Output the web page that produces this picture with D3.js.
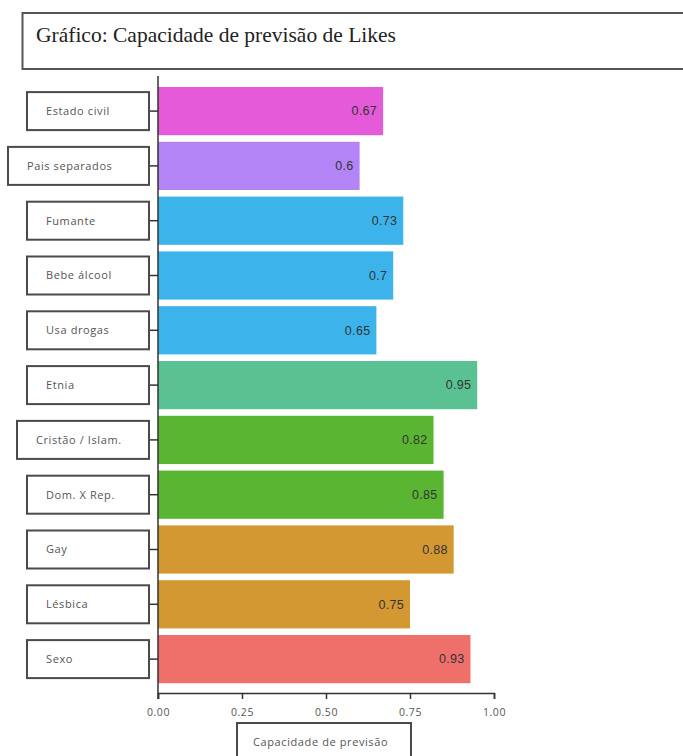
<!DOCTYPE html>
<html>
<head>
<meta charset="utf-8">
<script src="https://cdn.jsdelivr.net/npm/d3@7"></script>
<style>
  html, body { margin: 0; padding: 0; background: #fff; }
  svg { display: block; }
</style>
</head>
<body>
<svg id="chart" width="683" height="756"></svg>
<script>
// ---- data ----
const title = "Gráfico: Capacidade de previsão de Likes";
const categories = ["Estado civil", "Pais separados", "Fumante", "Bebe álcool", "Usa drogas", "Etnia", "Cristão / Islam.", "Dom. X Rep.", "Gay", "Lésbica", "Sexo"];
const values = [0.67, 0.6, 0.73, 0.7, 0.65, 0.95, 0.82, 0.85, 0.88, 0.75, 0.93];
const barColors = ["#E45AD8", "#B284F6", "#3CB4EB", "#3CB4EB", "#3CB4EB", "#5AC292", "#5AB632", "#5AB632", "#D49833", "#D49833", "#EF706B"];
const xTicks = [0, 0.25, 0.5, 0.75, 1.0];
const xTitle = "Capacidade de previsão";

// ---- layout ----
const svg = d3.select("#chart");
const axisX0 = 158, axisX1 = 494;
const x = d3.scaleLinear().domain([0, 1]).range([axisX0, axisX1]);
const y = d3.scaleBand().domain(categories).range([83.7, 686.5]).paddingInner(0.12).paddingOuter(0.06);
// label box left edges (layout)
const boxLeft = {"Pais separados": 8, "Cristão / Islam.": 17};
const boxRight = 149, boxH = 38;

// title box
svg.append("rect").attr("x", 22.5).attr("y", 13).attr("width", 680).attr("height", 56)
  .attr("fill", "#fff").attr("stroke", "#555").attr("stroke-width", 2);
svg.append("text").attr("x", 36).attr("y", 42)
  .attr("font-family", "'Liberation Serif', 'Times New Roman', serif")
  .attr("font-size", 21.5).attr("fill", "#222").text(title);

// bars
const g = svg.append("g");
g.selectAll("rect.bar").data(categories).join("rect").attr("class", "bar")
  .attr("x", x(0)).attr("y", d => y(d))
  .attr("width", (d, i) => x(values[i]) - x(0))
  .attr("height", y.bandwidth())
  .attr("fill", (d, i) => barColors[i]);

g.selectAll("text.val").data(categories).join("text").attr("class", "val")
  .attr("x", (d, i) => x(values[i]) - 6)
  .attr("y", d => y(d) + y.bandwidth() / 2)
  .attr("dy", "0.35em").attr("text-anchor", "end")
  .attr("font-family", "'Liberation Sans', Arial, sans-serif")
  .attr("font-size", 12.5).attr("letter-spacing", 0.3).attr("fill", "#333")
  .text((d, i) => String(values[i]));

// y axis
const yAxis = d3.axisLeft(y).tickSize(8).tickFormat("");
const ya = svg.append("g").attr("transform", `translate(${axisX0},0)`).call(yAxis);
ya.select(".domain").remove();
ya.selectAll(".tick line").attr("stroke", "#333").attr("stroke-width", 1.5);
svg.append("line").attr("x1", axisX0).attr("x2", axisX0).attr("y1", 76).attr("y2", 699)
  .attr("stroke", "#333").attr("stroke-width", 1.5);

// label boxes
const lb = svg.append("g");
categories.forEach(c => {
  const left = boxLeft[c] !== undefined ? boxLeft[c] : 27;
  const cy = y(c) + y.bandwidth() / 2;
  lb.append("rect").attr("x", left).attr("y", cy - boxH / 2)
    .attr("width", boxRight - left).attr("height", boxH)
    .attr("fill", "#fff").attr("stroke", "#4a4a4a").attr("stroke-width", 2);
  lb.append("text").attr("x", left + 19).attr("y", cy).attr("dy", "0.35em")
    .attr("font-family", "'Open Sans', sans-serif").attr("font-size", 11)
    .attr("letter-spacing", 0.6).attr("fill", "#555").text(c);
});

// x axis
const xAxis = d3.axisBottom(x).tickValues(xTicks).tickSize(6).tickPadding(10).tickFormat(d3.format(".2f"));
const xa = svg.append("g").attr("transform", `translate(0,693)`).call(xAxis);
xa.select(".domain").attr("stroke", "#333").attr("stroke-width", 1.5);
xa.selectAll(".tick line").attr("stroke", "#333").attr("stroke-width", 1.5);
xa.selectAll(".tick text").attr("font-family", "'Open Sans', sans-serif").attr("font-size", 10.5)
  .attr("letter-spacing", 0.5).attr("fill", "#555");

// x title box
svg.append("rect").attr("x", 237).attr("y", 723).attr("width", 174).attr("height", 45)
  .attr("fill", "#fff").attr("stroke", "#4a4a4a").attr("stroke-width", 2);
svg.append("text").attr("x", 253).attr("y", 742).attr("dy", "0.35em")
  .attr("font-family", "'Open Sans', sans-serif").attr("font-size", 11)
  .attr("letter-spacing", 0.6).attr("fill", "#555").text(xTitle);
</script>
</body>
</html>
